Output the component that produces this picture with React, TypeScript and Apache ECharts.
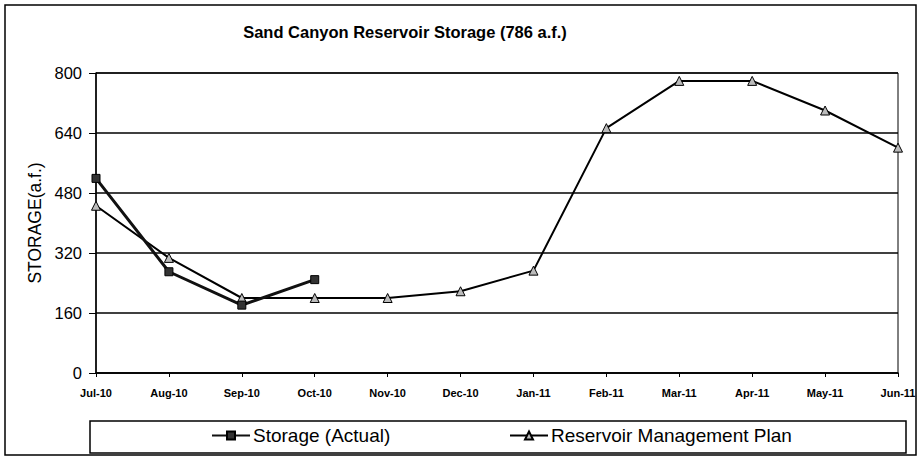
import React, { useEffect, useRef } from "react";
import * as echarts from "echarts";

const categories = ["Jul-10", "Aug-10", "Sep-10", "Oct-10", "Nov-10", "Dec-10", "Jan-11", "Feb-11", "Mar-11", "Apr-11", "May-11", "Jun-11"];
const storageActual = [519, 270, 181, 249];
const managementPlan = [446, 307, 200, 200, 200, 218, 273, 653, 779, 779, 700, 601];
const yTicks = { min: 0, max: 800, interval: 160 };
const titleText = "Sand Canyon Reservoir Storage (786 a.f.)";
const yName = "STORAGE(a.f.)";
const seriesNames = ["Storage (Actual)", "Reservoir Management Plan"];

export default function App() {
  const ref = useRef<HTMLDivElement>(null);
  useEffect(() => {
    document.body.style.margin = "0";
    const chart = echarts.init(ref.current!, null, { renderer: "svg" });
    const font = "Arial, 'Liberation Sans', sans-serif";
    chart.setOption({
      animation: false,
      backgroundColor: "#fff",
      title: {
        text: titleText,
        left: 400,
        textAlign: "center",
        top: 18,
        textStyle: { fontFamily: font, fontSize: 16.5, fontWeight: "bold", color: "#000" },
      },
      graphic: [
        { type: "rect", shape: { x: 5, y: 5, width: 911, height: 450 }, style: { fill: "none", stroke: "#000", lineWidth: 1.5 }, z: -1 },
        { type: "rect", shape: { x: 90, y: 421, width: 816, height: 32 }, style: { fill: "none", stroke: "#000", lineWidth: 1.5 }, z: -1 },
      ],
      legend: [
        {
          data: [seriesNames[0]], left: 211, top: 426, itemWidth: 38, itemHeight: 10, itemGap: 3, padding: 0,
          textStyle: { fontFamily: font, fontSize: 19, color: "#000", padding: [0, 0, 0, -2] },
        },
        {
          data: [seriesNames[1]], left: 509, top: 426, itemWidth: 38, itemHeight: 10, padding: 0,
          textStyle: { fontFamily: font, fontSize: 19, color: "#000", padding: [0, 0, 0, -2] },
        },
      ],
      grid: { left: 96, right: 23, top: 73, bottom: 84, show: true, borderColor: "#000", borderWidth: 1 },
      xAxis: {
        type: "category",
        data: categories,
        boundaryGap: false,
        axisLine: { lineStyle: { color: "#000", width: 1.5 } },
        axisTick: { show: true, length: 4, lineStyle: { color: "#000" } },
        axisLabel: { fontFamily: font, fontSize: 11, fontWeight: "bold", color: "#000", margin: 14 },
      },
      yAxis: {
        type: "value",
        min: yTicks.min,
        max: yTicks.max,
        interval: yTicks.interval,
        name: yName,
        nameLocation: "middle",
        nameGap: 46,
        nameTextStyle: { fontFamily: font, fontSize: 17.5, color: "#000" },
        axisLine: { show: true, lineStyle: { color: "#000", width: 1.5 } },
        axisTick: { show: true, length: 7, lineStyle: { color: "#000" } },
        axisLabel: { fontFamily: font, fontSize: 16.5, color: "#000", margin: 14 },
        splitLine: { lineStyle: { color: "#000", width: 1.5 } },
      },
      series: [
        {
          name: seriesNames[0],
          type: "line",
          data: storageActual,
          symbol: "rect",
          symbolSize: 8,
          lineStyle: { color: "#111", width: 3 },
          itemStyle: { color: "#333", borderColor: "#000", borderWidth: 1 },
          z: 3,
        },
        {
          name: seriesNames[1],
          type: "line",
          data: managementPlan,
          symbol: "triangle",
          symbolSize: 9,
          lineStyle: { color: "#000", width: 2 },
          itemStyle: { color: "#bbb", borderColor: "#000", borderWidth: 1 },
          z: 2,
        },
      ],
    });
    return () => chart.dispose();
  }, []);
  return <div ref={ref} style={{ position: "absolute", left: 0, top: 0, width: 921, height: 457 }} />;
}
